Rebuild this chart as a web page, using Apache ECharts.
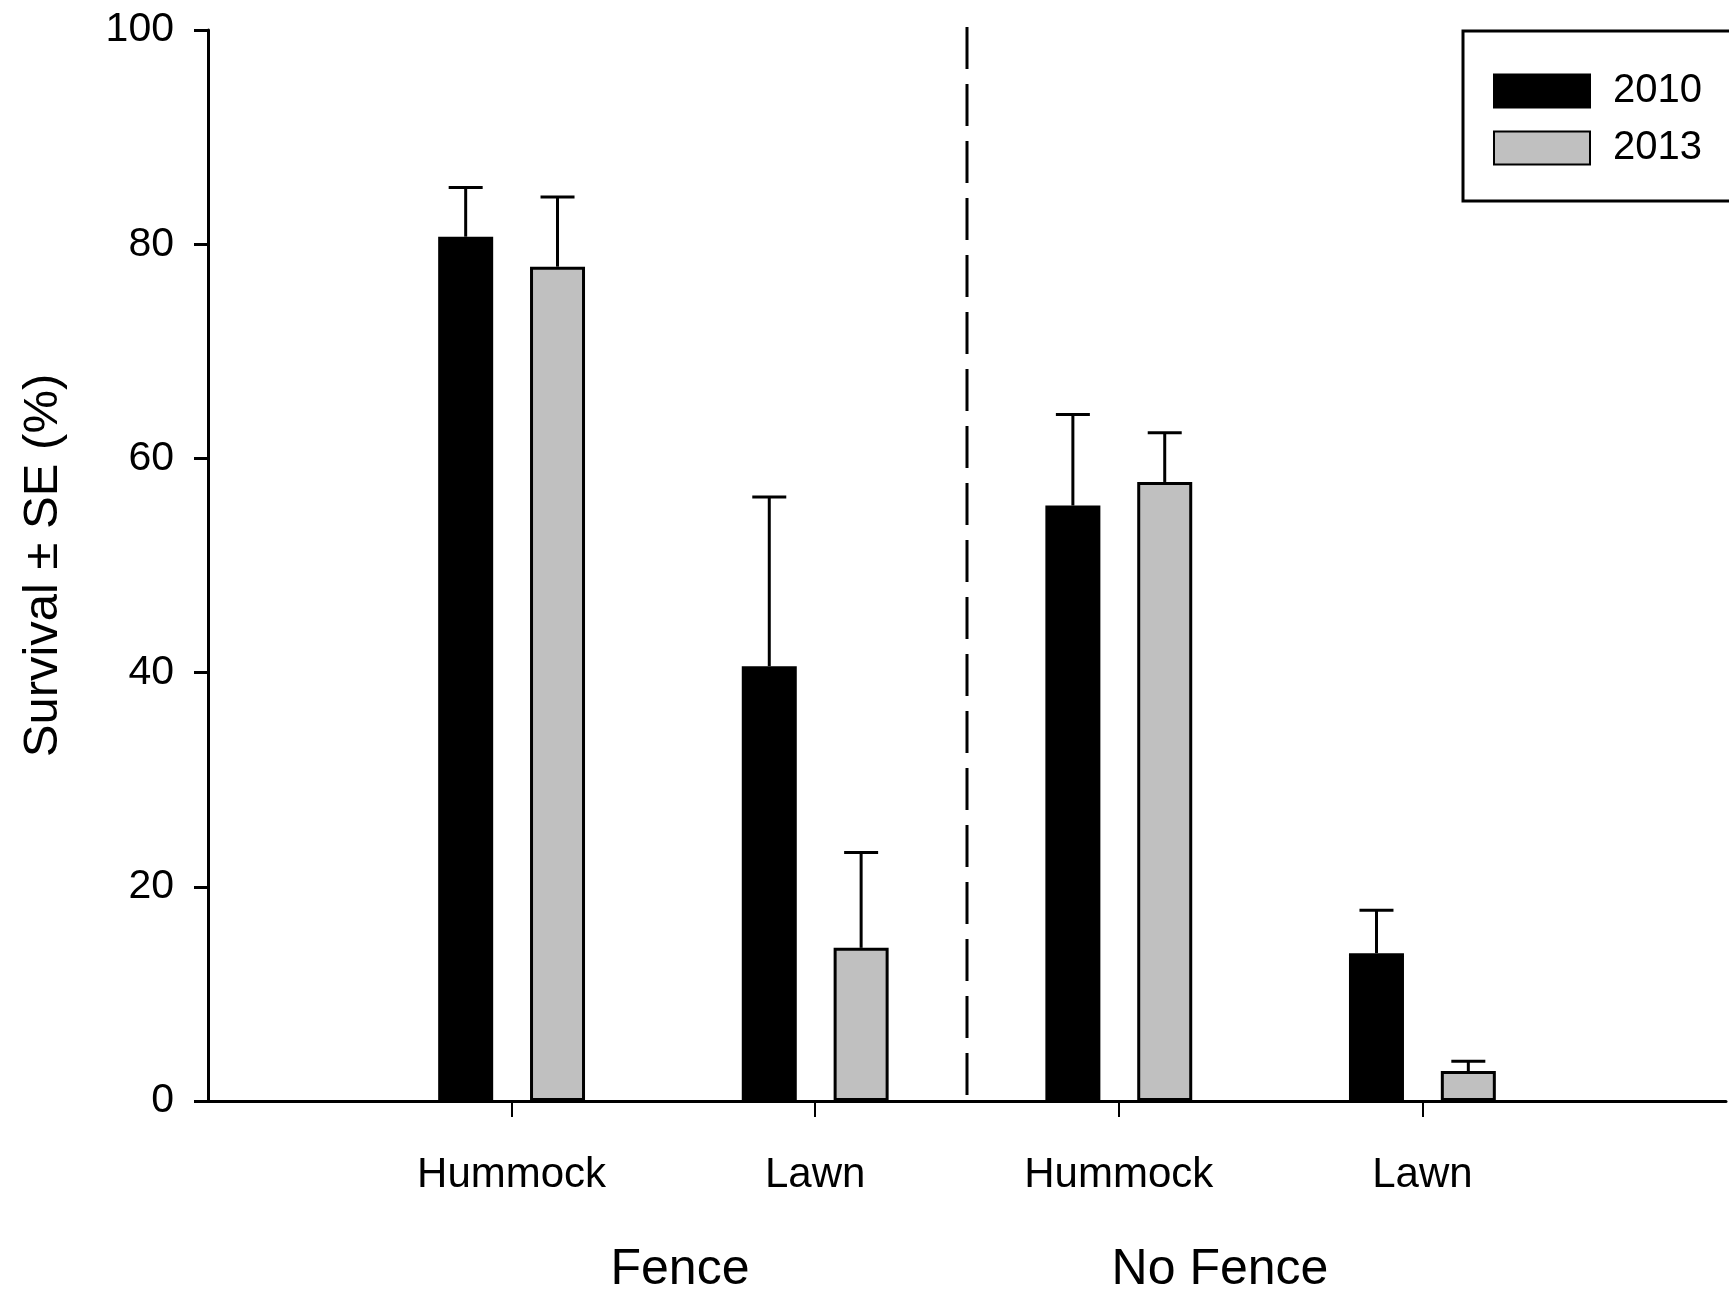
<!DOCTYPE html>
<html><head><meta charset="utf-8">
<script src="https://cdn.jsdelivr.net/npm/echarts@6/dist/echarts.min.js"></script>
<style>html,body{margin:0;padding:0;background:#fff}#c{width:1729px;height:1292px}</style>
</head><body><div id="c"></div>
<script>
// ---- data ----
const categories = ['Hummock', 'Lawn', 'Hummock', 'Lawn'];
const groups = ['Fence', 'No Fence'];
const years = ['2010', '2013'];
const survival2010 = [80.7, 40.6, 55.6, 13.8];
const se2010 = [4.6, 15.8, 8.5, 4.0];
const survival2013 = [77.9, 14.3, 57.8, 2.8];
const se2013 = [6.5, 8.9, 4.6, 0.9];
const yTicks = [0, 20, 40, 60, 80, 100];
const dividerTop = 100.7;

// ---- styling ----
const FONT = '"Liberation Sans", Arial, sans-serif';
const BAR_W = 55;
const BAR_GAP = 0.67;
const OFFSET = (BAR_W + BAR_W * BAR_GAP) / 2;

const axisCats = [''].concat(categories, ['']);

function errorSeries(vals, ses, offset) {
  return {
    type: 'custom',
    silent: true,
    z: 3,
    encode: { x: 0, y: [1, 2] },
    data: vals.map((v, i) => [i + 1, v, v + ses[i]]),
    renderItem: function (params, api) {
      const base = api.coord([api.value(0), api.value(1)]);
      const top = api.coord([api.value(0), api.value(2)]);
      const x = base[0] + offset;
      const hw = 17;
      return {
        type: 'group',
        children: [
          { type: 'line', shape: { x1: x, y1: base[1], x2: x, y2: top[1] }, style: { stroke: '#000', lineWidth: 3 } },
          { type: 'line', shape: { x1: x - hw, y1: top[1], x2: x + hw, y2: top[1] }, style: { stroke: '#000', lineWidth: 3 } }
        ]
      };
    }
  };
}

const chart = echarts.init(document.getElementById('c'), null, { renderer: 'canvas' });
chart.setOption({
  backgroundColor: '#fff',
  animation: false,
  grid: { left: 208, top: 30, width: 1530, height: 1071 },
  legend: {
    data: years,
    left: 1463, top: 31,
    orient: 'vertical',
    icon: 'rect',
    itemWidth: 96, itemHeight: 33, itemGap: 17,
    padding: [40, 40, 33, 30],
    borderColor: '#000', borderWidth: 3,
    textStyle: { fontSize: 40, fontFamily: FONT, color: '#000', padding: [0, 0, 0, 18], lineHeight: 34 },
    selectedMode: false
  },
  xAxis: {
    type: 'category',
    data: axisCats,
    boundaryGap: false,
    axisLine: { lineStyle: { color: '#000', width: 3 } },
    axisTick: { show: true, length: 16, interval: (i) => i > 0 && i < axisCats.length - 1, lineStyle: { color: '#000', width: 2 } },
    axisLabel: { interval: 0, margin: 53, fontSize: 42, fontFamily: FONT, color: '#000' },
    splitLine: { show: false }
  },
  yAxis: {
    type: 'value',
    min: yTicks[0], max: yTicks[yTicks.length - 1], interval: yTicks[1] - yTicks[0],
    axisLine: { show: true, lineStyle: { color: '#000', width: 3 } },
    axisTick: { show: true, length: 14, lineStyle: { color: '#000', width: 3 } },
    axisLabel: { margin: 34, fontSize: 41, fontFamily: FONT, color: '#000' },
    splitLine: { show: false },
    name: 'Survival ± SE (%)',
    nameLocation: 'middle',
    nameGap: 140,
    nameTextStyle: { fontSize: 49, fontFamily: FONT, color: '#000' }
  },
  graphic: [
    { type: 'text', x: 680, y: 1270, style: { text: groups[0], fontSize: 50, fontFamily: FONT, fill: '#000', align: 'center', verticalAlign: 'middle' } },
    { type: 'text', x: 1220, y: 1270, style: { text: groups[1], fontSize: 50, fontFamily: FONT, fill: '#000', align: 'center', verticalAlign: 'middle' } }
  ],
  series: [
    {
      name: years[0], type: 'bar', barWidth: BAR_W, barGap: (BAR_GAP * 100) + '%',
      data: survival2010.map((v, i) => [i + 1, v]),
      itemStyle: { color: '#000', borderColor: '#000', borderWidth: 3 },
      z: 2
    },
    {
      name: years[1], type: 'bar', barWidth: BAR_W, barGap: (BAR_GAP * 100) + '%',
      data: survival2013.map((v, i) => [i + 1, v]),
      itemStyle: { color: '#c0c0c0', borderColor: '#000', borderWidth: 3 },
      z: 2
    },
    errorSeries(survival2010, se2010, -OFFSET),
    errorSeries(survival2013, se2013, OFFSET),
    {
      type: 'custom',
      silent: true,
      encode: { x: 0, y: 2 },
      data: [[2, 3, dividerTop]],
      renderItem: function (params, api) {
        const a = api.coord([api.value(0), 0]);
        const b = api.coord([api.value(1), 0]);
        const t = api.coord([api.value(0), api.value(2)]);
        const x = (a[0] + b[0]) / 2;
        return { type: 'line', shape: { x1: x, y1: a[1] - 6, x2: x, y2: t[1] }, style: { stroke: '#000', lineWidth: 3, lineDash: [42, 15] } };
      }
    }
  ]
});
</script></body></html>
